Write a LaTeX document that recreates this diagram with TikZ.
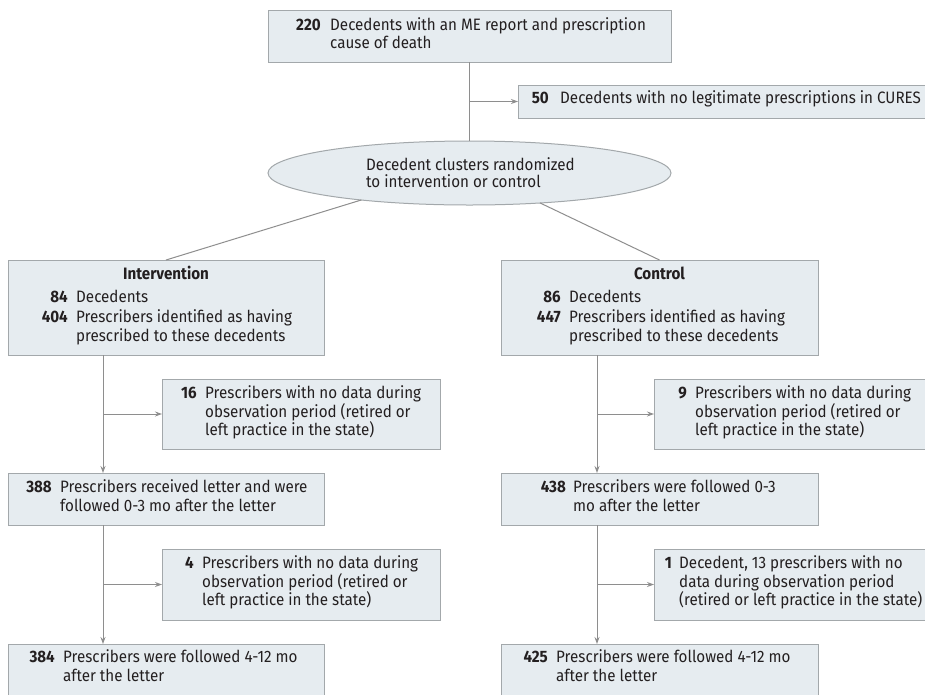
\documentclass[tikz,border=0pt]{standalone}
\usepackage{fontspec}
\setmainfont[FakeStretch=0.92]{Fira Sans}
\usetikzlibrary{arrows.meta,shapes.geometric,calc}
\definecolor{boxfill}{HTML}{E6ECF0}
\definecolor{boxdraw}{HTML}{A3A8AB}
\definecolor{linecol}{HTML}{8E8E8E}
\definecolor{txtcol}{HTML}{231F20}
\newcommand\rowline[6]{\node[numlab] (#1n) at (#3,#2) {#4};\node[txtlab] (#1t) at (#5,#2) {#6};}
\newcommand\contline[4]{\node[txtlab] (#1) at (#3,#2) {#4};}
\begin{document}
\begin{tikzpicture}[x=1pt,y=-1pt,
  font=\fontsize{16.5}{19}\selectfont, text=txtcol,
  box/.style={draw=boxdraw,fill=boxfill,line width=1pt,inner sep=0pt,outer sep=0pt},
  numlab/.style={anchor=mid east,inner sep=0pt,font=\fontsize{16.5}{19}\selectfont\bfseries},
  txtlab/.style={anchor=mid west,inner sep=0pt},
  ttl/.style={anchor=mid,inner sep=0pt,font=\fontsize{16.5}{19}\selectfont\bfseries},
  conn/.style={draw=linecol,line width=1pt},
  arr/.style={conn,-{Stealth[length=7pt,width=5pt]}}]
\useasboundingbox (0,0) rectangle (925,694);
\fill[white] (0,0) rectangle (925,694);
\begin{scope}
\clip (0,0) rectangle (925,694);
% boxes
\node[box,minimum width=403pt,minimum height=52pt] (top) at (469.5,36) {};
\node[box,minimum width=408pt,minimum height=33pt,anchor=north west] (excl) at (518,85) {};
\node[box,ellipse,minimum width=403pt,minimum height=64pt] (ell) at (469.5,173) {};
\node[box,minimum width=316pt,minimum height=95pt,anchor=north west] (int) at (8,260) {};
\node[box,minimum width=317pt,minimum height=95pt,anchor=north west] (con) at (501,260) {};
\node[box,minimum width=278pt,minimum height=70pt,anchor=north west] (ia) at (162,379) {};
\node[box,minimum width=275pt,minimum height=70pt,anchor=north west] (ca) at (654,379) {};
\node[box,minimum width=316pt,minimum height=52pt,anchor=north west] (ib) at (8,473) {};
\node[box,minimum width=317pt,minimum height=52pt,anchor=north west] (cb) at (501,473) {};
\node[box,minimum width=278pt,minimum height=71pt,anchor=north west] (ic) at (162,549) {};
\node[box,minimum width=275pt,minimum height=71pt,anchor=north west] (cc) at (654,549) {};
\node[box,minimum width=316pt,minimum height=60pt,anchor=north west] (id) at (8,644) {};
\node[box,minimum width=317pt,minimum height=60pt,anchor=north west] (cd) at (501,644) {};
\end{scope}
% connector helpers
\coordinate (vl) at (103,0);
\coordinate (vr) at (597,0);
% connectors
\draw[conn] (top.south) -- (ell.north);
\draw[arr] (top.south |- excl.west) -- (excl.west);
\draw[conn] (ell.194) -- (int.north);
\draw[conn] (ell.337) -- (con.north);
\draw[arr] (int.south -| vl) -- (ib.north -| vl);
\draw[arr] (vl |- ia.west) -- (ia.west);
\draw[arr] (ib.south -| vl) -- (id.north -| vl);
\draw[arr] (vl |- ic.west) -- (ic.west);
\draw[arr] (con.south -| vr) -- (cb.north -| vr);
\draw[arr] (vr |- ca.west) -- (ca.west);
\draw[arr] (cb.south -| vr) -- (cd.north -| vr);
\draw[arr] (vr |- cc.west) -- (cc.west);
% texts
\rowline{ta}{28}{321}{220}{330}{Decedents with an ME report and prescription}
\contline{tb}{46}{330}{cause of death}
\rowline{ea}{101}{549}{50}{560}{Decedents with no legitimate prescriptions in CURES}
\contline{la}{168}{366}{Decedent clusters randomized}
\contline{lb}{185}{366}{to intervention or control}
\node[ttl] (intt) at (166,277) {Intervention};
\rowline{i1}{300}{68}{84}{76}{Decedents}
\rowline{i2}{320}{68}{404}{76}{Prescribers identified as having}
\contline{i3}{339}{76}{prescribed to these decedents}
\node[ttl] (cont) at (659.5,277) {Control};
\rowline{c1}{300}{561}{86}{569}{Decedents}
\rowline{c2}{320}{561}{447}{569}{Prescribers identified as having}
\contline{c3}{339}{569}{prescribed to these decedents}
\rowline{ia1}{396}{197}{16}{205}{Prescribers with no data during}
\contline{ia2}{415}{205}{observation period (retired or}
\contline{ia3}{433}{205}{left practice in the state)}
\rowline{ca1}{396}{687}{9}{695}{Prescribers with no data during}
\contline{ca2}{415}{695}{observation period (retired or}
\contline{ca3}{433}{695}{left practice in the state)}
\rowline{ib1}{490}{52}{388}{60}{Prescribers received letter and were}
\contline{ib2}{509}{60}{followed 0-3 mo after the letter}
\rowline{cb1}{490}{566}{438}{573}{Prescribers were followed 0-3}
\contline{cb2}{509}{573}{mo after the letter}
\rowline{ic1}{566}{194}{4}{202}{Prescribers with no data during}
\contline{ic2}{585}{202}{observation period (retired or}
\contline{ic3}{603}{202}{left practice in the state)}
\rowline{cc1}{566}{672}{1}{679}{Decedent, 13 prescribers with no}
\contline{cc2}{585}{679}{data during observation period}
\contline{cc3}{603}{679}{(retired or left practice in the state)}
\rowline{id1}{660}{55}{384}{63}{Prescribers were followed 4-12 mo}
\contline{id2}{679}{63}{after the letter}
\rowline{cd1}{660}{548}{425}{556}{Prescribers were followed 4-12 mo}
\contline{cd2}{679}{556}{after the letter}
\end{tikzpicture}
\end{document}
